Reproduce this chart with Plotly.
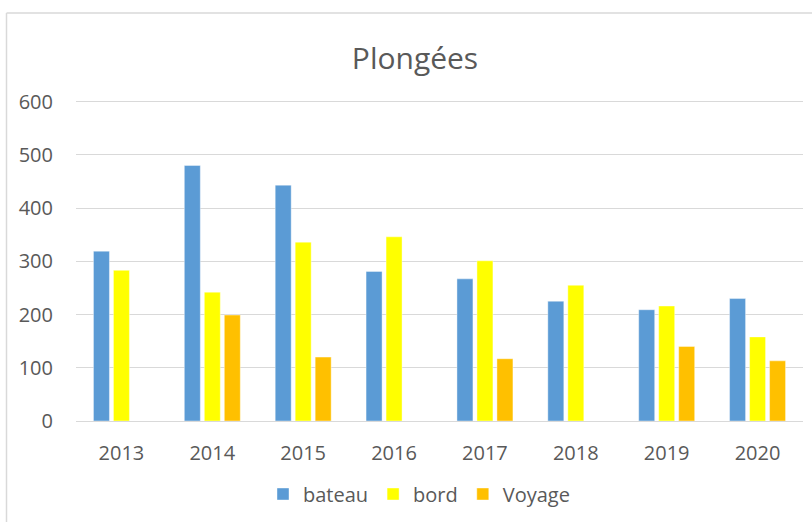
import plotly.graph_objects as go

years = ["2013", "2014", "2015", "2016", "2017", "2018", "2019", "2020"]
bateau = [319, 480, 443, 281, 267, 225, 209, 230]
bord = [283, 242, 336, 346, 301, 255, 216, 158]
voyage = [None, 199, 120, None, 117, None, 140, 113]

series = [("bateau", bateau, "#5B9BD5"), ("bord", bord, "#FFFF00"), ("Voyage", voyage, "#FFC000")]

fig = go.Figure()
for name, vals, col in series:
    fig.add_trace(go.Bar(x=years, y=vals, name=name,
                         marker=dict(color=col, line=dict(color="rgba(255,255,255,0.5)", width=0.8))))

W, H = 812, 522
YMAX = 603
L, R, B = 76, 9, 101
T = round(102 - (YMAX - 600) * (319.3 / 600))
pw, ph = W - L - R, H - T - B

def px_x(p):
    return (p - L) / pw

def px_y(p):
    return (H - B - p) / ph

txt = "#595959"
fig.update_layout(
    width=W, height=H,
    margin=dict(l=L, r=R, t=T, b=B),
    paper_bgcolor="white", plot_bgcolor="white",
    font=dict(family="Open Sans", size=20, color=txt),
    title=dict(text="Plongées", font=dict(size=30, color=txt),
               x=415 / W, xanchor="center", y=1 - 58 / H, yanchor="middle"),
    barmode="group", bargap=0.34, bargroupgap=0.2,
    legend=dict(orientation="h", x=px_x(419), xanchor="center",
                y=px_y(494), yanchor="middle", font=dict(size=20, color=txt)),
    showlegend=True,
)
fig.update_yaxes(range=[0, YMAX], tickvals=[0, 100, 200, 300, 400, 500, 600],
                 showgrid=True, gridcolor="#D9D9D9",
                 gridwidth=1.3, zeroline=True, zerolinecolor="#D9D9D9", zerolinewidth=1.3,
                 showline=False, ticks="", ticklabelstandoff=22,
                 tickfont=dict(size=20, color=txt))
fig.update_xaxes(showgrid=False, showline=False, ticks="", ticklabelstandoff=18,
                 tickfont=dict(size=20, color=txt))

# chart border (top and left edges visible)
fig.add_shape(type="line", xref="paper", yref="paper",
              x0=px_x(6.5), x1=px_x(813), y0=px_y(13), y1=px_y(13),
              line=dict(color="#D9D9D9", width=1.5))
fig.add_shape(type="line", xref="paper", yref="paper",
              x0=px_x(6.5), x1=px_x(6.5), y0=px_y(13), y1=px_y(523),
              line=dict(color="#D9D9D9", width=1.5))

fig.write_html("out.html", config={"displayModeBar": False},
               post_script="document.body.style.margin='0';")
